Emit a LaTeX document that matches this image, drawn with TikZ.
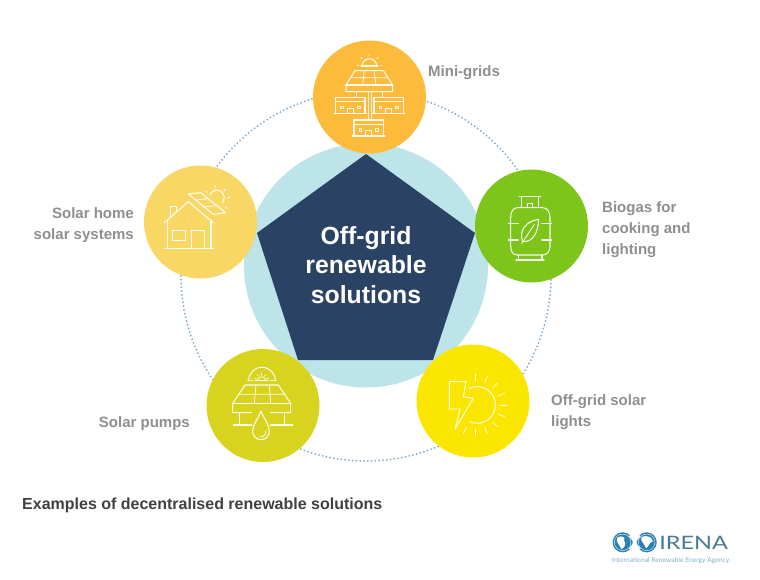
\documentclass[tikz,border=0pt]{standalone}
\usepackage{fontspec}
\setmainfont{Liberation Sans}
\newfontfamily\thinlogo{Lato}
\begin{document}
\begin{tikzpicture}[x=1pt,y=-1pt,
  bubble/.style={circle,minimum size=113pt,inner sep=0pt,draw=none},
  lab/.style={text=labgray,font=\bfseries\fontsize{15}{21}\selectfont,inner sep=0pt,align=left},
  icon/.style={draw=white,line width=1.05pt,line join=round,line cap=round,opacity=.93,fill=none},
  thin/.style={icon,line width=.8pt},
  ground/.style={icon,line width=1.2pt}]
\definecolor{labgray}{HTML}{8F8F8F}
\definecolor{dotblue}{HTML}{7FA9CB}
\definecolor{halo}{HTML}{BCE4E9}
\definecolor{navy}{HTML}{2A4365}
\definecolor{cmini}{HTML}{FDBB3B}
\definecolor{chome}{HTML}{F9D765}
\definecolor{cbio}{HTML}{7DC41B}
\definecolor{clight}{HTML}{FBE600}
\definecolor{cpump}{HTML}{D8D31E}
\definecolor{logoblue}{HTML}{2A80B0}
\definecolor{logotext}{HTML}{4A7A94}
\definecolor{logosub}{HTML}{7FB2CC}
\useasboundingbox (0,0) rectangle (760,580);
\fill[white] (0,0) rectangle (760,580);
% ring
\draw[dotblue,line width=2pt,line cap=round,dash pattern=on 0pt off 3.8pt] (366,276) circle[radius=185];
% centre
\node[circle,fill=halo,minimum size=244pt,inner sep=0pt] (halo) at (366,265.5) {};
\fill[navy] (366,154) -- (475,233) -- (433,360) -- (298,360) -- (257,233) -- cycle;
\node[text=white,font=\bfseries\fontsize{24.8}{29.5}\selectfont,align=center,inner sep=0pt] (title) at (366,265) {Off-grid\\renewable\\solutions};
% bubbles
\node[bubble,fill=cmini] (mini) at (369.5,97) {};
\node[bubble,fill=chome] (home) at (200.5,222) {};
\node[bubble,fill=cbio] (bio) at (531.5,226) {};
\node[bubble,fill=clight] (light) at (473,401) {};
\node[bubble,fill=cpump] (pump) at (263,405.5) {};
% labels
\node[lab,anchor=west] (lmini) at (428,72.5) {Mini-grids};
\node[lab,anchor=east,align=right] (lhome) at (134,225.5) {Solar home\\solar systems};
\node[lab,anchor=west] (lbio) at (602,229.5) {Biogas for\\cooking and\\lighting};
\node[lab,anchor=west] (llight) at (551,412) {Off-grid solar\\lights};
\node[lab,anchor=east,align=right] (lpump) at (190,423.5) {Solar pumps};
\node[text=black!75,font=\bfseries\fontsize{16}{19}\selectfont,inner sep=0pt,anchor=west] (caption) at (22,505) {Examples of decentralised renewable solutions};
% mini-grid icon
\begin{scope}[shift={(300,40)},scale=1/3]
\draw[icon] (186,78) arc[start angle=180,end angle=360,radius=22];
\draw[ground] (183,78) -- (234,78);
\draw[thin] (208,44)--(208,48) (183,52)--(186,56) (234,52)--(231,56) (172,77)--(176,75) (246,77)--(242,75);
\draw[icon] (165,92) -- (250,92) -- (278,135) -- (278,155) -- (138,155) -- (138,135) -- cycle;
\draw[icon] (138,135) -- (278,135);
\draw[thin] (193,92)--(188,135) (222,92)--(228,135) (152,113)--(264,113);
\draw[thin,densely dotted] (204,155)--(204,238) (214,155)--(214,238);
\draw[thin] (170,155)--(170,172) (248,155)--(248,172);
\foreach \dx/\dy in {0/0,115/0,55/68}{
 \begin{scope}[shift={(\dx,\dy)}]
 \draw[icon] (107,220) -- (107,172) -- (195,172) -- (195,220);
 \draw[thin] (107,185)--(195,185);
 \draw[ground] (102,220)--(200,220);
 \draw[thin] (122,198) rectangle (130,206) (172,198) rectangle (180,206);
 \draw[thin] (141,220)--(141,204)--(159,204)--(159,220);
 \end{scope}}
\end{scope}
% home icon
\begin{scope}[shift={(135,160)},scale=1/3]
\draw[icon] (88,188) -- (160,125) -- (235,188);
\draw[icon] (97,180)--(97,265) (228,180)--(228,265);
\draw[ground] (90,265)--(235,265);
\draw[icon] (112,212) rectangle (152,242);
\draw[icon] (170,265)--(170,212)--(208,212)--(208,265);
\draw[icon] (107,170)--(107,140)--(124,140)--(124,155);
\fill[white,opacity=.8] (160,172) circle[radius=1.6];
\draw[icon] (160,102)--(197,98)--(272,158)--(235,163)--cycle;
\draw[thin] (182,120)--(219,116) (207,141)--(244,137);
\draw[icon] (225,105) arc[start angle=-160,end angle=45,radius=22];
\draw[thin] (240,76)--(240,85) (272,88)--(266,95) (285,112)--(276,115) (270,140)--(277,145) (212,92)--(218,97);
\end{scope}
% biogas icon
\begin{scope}[shift={(470,165)},scale=1/3]
\draw[ground] (148,95)--(212,95);
\draw[icon] (155,95)--(155,127) (205,95)--(205,127);
\draw[thin] (172,127)--(172,114)--(188,114)--(188,127);
\draw[icon] (142,128)--(218,128) .. controls (232,128) and (240,142) .. (240,158) -- (240,243) .. controls (240,258) and (232,270) .. (218,270) -- (142,270) .. controls (128,270) and (122,258) .. (122,243) -- (122,158) .. controls (122,142) and (128,128) .. (142,128) -- cycle;
\draw[icon] (145,270)--(145,285) (216,270)--(216,285);
\draw[ground] (138,285)--(222,285);
\draw[icon] (115,175)--(145,175) (215,175)--(245,175) (115,225)--(145,225) (215,225)--(245,225);
\draw[icon] (206,163) .. controls (170,168) and (145,195) .. (158,230) .. controls (190,232) and (205,200) .. (206,163) -- cycle;
\draw[thin] (155,236)--(193,178);
\end{scope}
% light icon
\begin{scope}[shift={(410,340)},scale=1/3]
\draw[thin,line width=.95pt] (118,125)--(168,125)--(160,170)--(190,175)--(135,268)--(150,207)--(118,207)--cycle;
\draw[thin,line width=.95pt] (178,145) arc[start angle=-115,end angle=115,radius=55];
\foreach \a in {90,68,45,22,0,-22,-45,-68,-90,-113}
  \draw[thin] ({197+72*cos(\a)},{195-72*sin(\a)}) -- ({197+93*cos(\a)},{195-93*sin(\a)});
\end{scope}
% pump icon
\begin{scope}[shift={(200,340)},scale=1/3]
\draw[icon] (146,122) arc[start angle=180,end angle=360,radius=40];
\draw[icon] (143,122)--(157,122) (212,122)--(228,122);
\draw[thin] (173,122) arc[start angle=180,end angle=360,radius=12];
\draw[ground] (165,122)--(205,122);
\foreach \a in {20,55,90,125,160}
  \draw[thin] ({185+16*cos(\a)},{122-16*sin(\a)}) -- ({185+22*cos(\a)},{122-22*sin(\a)});
\draw[icon] (155,218)--(98,218)--(98,190)--(135,135)--(235,135)--(272,190)--(272,218)--(212,218);
\draw[icon] (98,190)--(272,190);
\draw[thin] (168,135)--(163,190) (208,135)--(212,190) (117,163)--(253,163);
\draw[icon] (118,218)--(118,255) (253,218)--(253,255);
\draw[ground] (100,255)--(155,255) (212,255)--(278,255);
\draw[icon] (183,213) .. controls (176,235) and (158,252) .. (158,274) arc[start angle=180,end angle=0,radius=25] .. controls (208,252) and (190,235) .. (183,213) -- cycle;
\draw[thin] (180,291) .. controls (192,291) and (198,284) .. (197,274);
\end{scope}
% logo
\begin{scope}[shift={(600,525)},scale=1/3]
\draw[logoblue,line width=1.4pt] (68,52) circle[radius=28] (140,52) circle[radius=28];
\fill[logoblue] (68,52) circle[radius=24] (140,52) circle[radius=24];
\draw[white,line width=1.3pt] (88,32) .. controls (100,46) and (108,58) .. (120,72) (88,72) .. controls (100,58) and (108,46) .. (120,32);
\fill[white] (52,38) .. controls (64,30) and (78,36) .. (72,46) .. controls (82,56) and (70,72) .. (64,72) .. controls (60,60) and (46,52) .. (52,38) -- cycle;
\fill[white] (124,36) .. controls (140,28) and (160,38) .. (158,50) .. controls (148,50) and (146,66) .. (138,70) .. controls (136,58) and (120,50) .. (124,36) -- cycle;
\end{scope}
\node[text=logotext,font=\thinlogo\fontsize{18.5}{20}\selectfont,inner sep=0pt,anchor=west,xscale=1.27,transform shape] (irena) at (659,543) {IRENA};
\node[text=logosub,font=\thinlogo\fontsize{6.7}{8}\selectfont,inner sep=0pt,anchor=west] (agency) at (612,561) {International Renewable Energy Agency};
\end{tikzpicture}
\end{document}
